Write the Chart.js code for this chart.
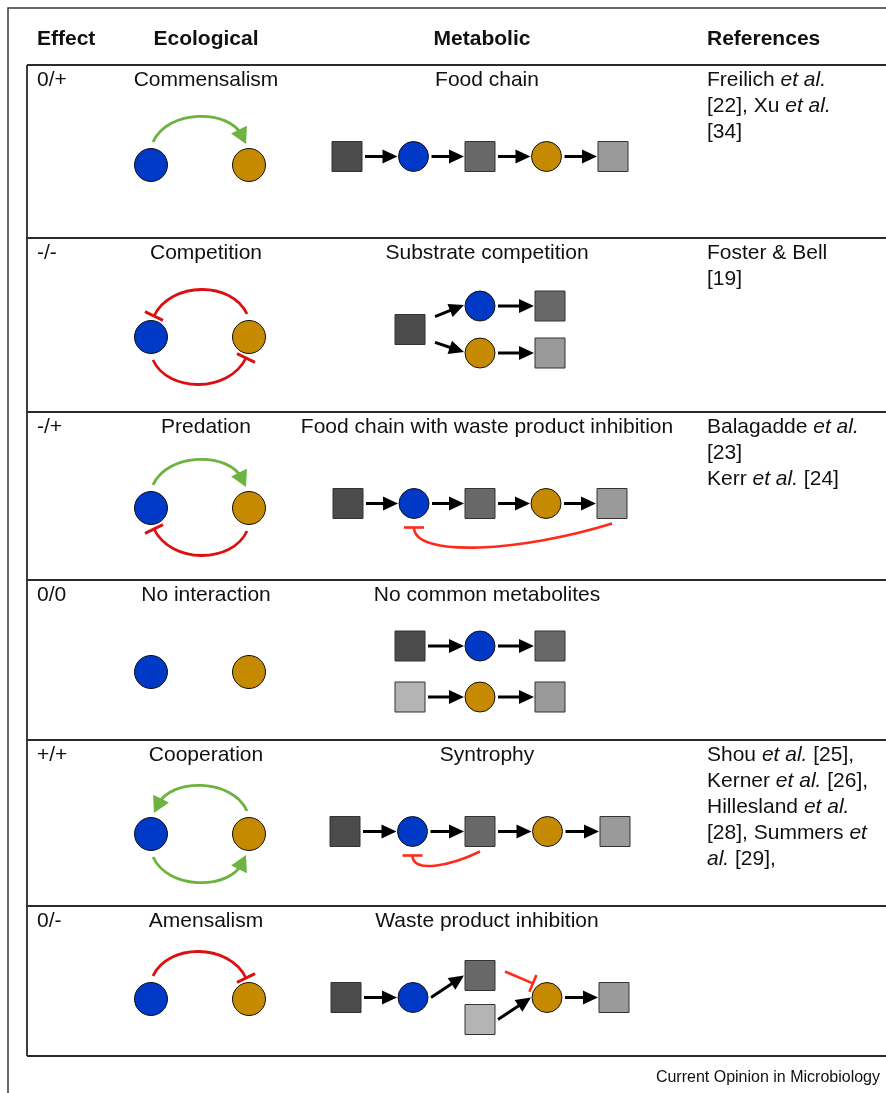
<!DOCTYPE html>
<html>
<head>
<meta charset="utf-8">
<script src="https://cdn.jsdelivr.net/npm/chart.js@4.4.0/dist/chart.umd.min.js"></script>
<style>
  html, body { margin: 0; padding: 0; background: #fff; }
</style>
</head>
<body>
<canvas id="c" width="886" height="1093"></canvas>
<script>
// ---- table content ----
const headers = ['Effect', 'Ecological', 'Metabolic', 'References'];
const effects = ['0/+', '-/-', '-/+', '0/0', '+/+', '0/-'];
const ecological = ['Commensalism', 'Competition', 'Predation', 'No interaction', 'Cooperation', 'Amensalism'];
const metabolic = ['Food chain', 'Substrate competition', 'Food chain with waste product inhibition',
  'No common metabolites', 'Syntrophy', 'Waste product inhibition'];
// *...* = italic
const references = [
  ['Freilich *et al.*', '[22], Xu *et al.*', '[34]'],
  ['Foster & Bell', '[19]'],
  ['Balagadde *et al.*', '[23]', 'Kerr *et al.* [24]'],
  [],
  ['Shou *et al.* [25],', 'Kerner *et al.* [26],', 'Hillesland *et al.*', '[28], Summers *et*', '*al.* [29],'],
  []
];
const source = 'Current Opinion in Microbiology';

// ecological links: [from, to, side, effect]   + arrow, - inhibition
const ecoLinks = [
  [['A', 'B', 'top', '+']],
  [['B', 'A', 'top', '-'], ['A', 'B', 'bottom', '-']],
  [['A', 'B', 'top', '+'], ['B', 'A', 'bottom', '-']],
  [],
  [['B', 'A', 'top', '+'], ['A', 'B', 'bottom', '+']],
  [['A', 'B', 'top', '-']]
];

// metabolic nodes: [kind, step, lane]  (A/B = species, M1..M4 = metabolites)
const metaNodes = [
  [['M1', 0, 0], ['A', 1, 0], ['M2', 2, 0], ['B', 3, 0], ['M3', 4, 0]],
  [['M1', 1, 0], ['A', 2, -1], ['M2', 3, -1], ['B', 2, 1], ['M3', 3, 1]],
  [['M1', 0, 0], ['A', 1, 0], ['M2', 2, 0], ['B', 3, 0], ['M3', 4, 0]],
  [['M1', 1, -1], ['A', 2, -1], ['M2', 3, -1], ['M4', 1, 1], ['B', 2, 1], ['M3', 3, 1]],
  [['M1', 0, 0], ['A', 1, 0], ['M2', 2, 0], ['B', 3, 0], ['M3', 4, 0]],
  [['M1', 0, 0], ['A', 1, 0], ['M2', 2, -1], ['M4', 2, 1], ['B', 3, 0], ['M3', 4, 0]]
];
// conversions, by node index
const metaFlows = [
  [[0, 1], [1, 2], [2, 3], [3, 4]],
  [[0, 1], [1, 2], [0, 3], [3, 4]],
  [[0, 1], [1, 2], [2, 3], [3, 4]],
  [[0, 1], [1, 2], [3, 4], [4, 5]],
  [[0, 1], [1, 2], [2, 3], [3, 4]],
  [[0, 1], [1, 2], [3, 4], [4, 5]]
];
const metaInhibitions = [[], [], [[4, 1]], [], [[2, 1]], [[2, 4]]];

// ---- layout (design units = px of the 886x1093 figure) ----
const W = 886, H = 1093;
const rowTops = [65, 238, 412, 580, 740, 906];
const tableBottom = 1056;
const ecoX = { A: 151, B: 249 };
const ecoDy = [100, 99, 96, 92, 94, 93];
const metaCenterX = 480, metaDy = 91.5;
const metaStep = [66.5, 70, 66, 70, 67.5, 67];
const laneGap = [0, 23.5, 0, 25.5, 0, 22];
const colors = { A: '#0039c6', B: '#c68a00', M1: '#4b4b4b', M2: '#686868', M3: '#9a9a9a', M4: '#b4b4b4' };
const GREEN = '#6cb33f', RED = '#dc1010', RED2 = '#ff2a1a';
const FONT = '"Liberation Sans", Arial, Helvetica, sans-serif';
const ECO_R = 16.5, META_R = 15, SQ_HALF = 15;

const ecoPts = [];
effects.forEach((_, r) => {
  ['A', 'B'].forEach(k => ecoPts.push({ x: ecoX[k], y: rowTops[r] + ecoDy[r], kind: k }));
});
function metaPos(r, n) {
  return {
    x: metaCenterX + (n[1] - 2) * metaStep[r], y: rowTops[r] + metaDy + n[2] * laneGap[r],
    kind: n[0], lane: n[2]
  };
}
const metaPts = metaNodes.map((row, r) => row.map(n => metaPos(r, n)));
const speciesPts = [].concat(...metaPts).filter(p => p.kind === 'A' || p.kind === 'B');
const metabolitePts = [].concat(...metaPts).filter(p => p.kind[0] === 'M');

const isSq = p => p.kind[0] === 'M';
const half = p => isSq(p) ? SQ_HALF : META_R;

// ---- drawing helpers ----
function head(ctx, tip, ang, len, hw, color) {
  ctx.save();
  ctx.translate(tip.x, tip.y);
  ctx.rotate(ang);
  ctx.beginPath();
  ctx.moveTo(0, 0); ctx.lineTo(-len, -hw); ctx.lineTo(-len, hw); ctx.closePath();
  ctx.fillStyle = color; ctx.fill();
  ctx.restore();
}
function bar(ctx, p, ang, len, color, lw) {
  const nx = -Math.sin(ang), ny = Math.cos(ang);
  ctx.beginPath();
  ctx.moveTo(p.x - nx * len / 2, p.y - ny * len / 2);
  ctx.lineTo(p.x + nx * len / 2, p.y + ny * len / 2);
  ctx.strokeStyle = color; ctx.lineWidth = lw; ctx.stroke();
}
function curve(ctx, p0, c1, c2, p3, color, lw, effect, hl) {
  const ang = Math.atan2(p3.y - c2.y, p3.x - c2.x);
  let end = p3;
  if (effect === '+') end = { x: p3.x - Math.cos(ang) * hl * 0.6, y: p3.y - Math.sin(ang) * hl * 0.6 };
  ctx.beginPath();
  ctx.moveTo(p0.x, p0.y);
  ctx.bezierCurveTo(c1.x, c1.y, c2.x, c2.y, end.x, end.y);
  ctx.strokeStyle = color; ctx.lineWidth = lw; ctx.lineCap = 'butt'; ctx.stroke();
  if (effect === '+') head(ctx, p3, ang, hl, hl * 0.55, color);
  else bar(ctx, p3, ang, 20, color, lw);
}
function rich(ctx, str, x, y, size) {
  let cx = x;
  str.split('*').forEach((part, i) => {
    ctx.font = (i % 2 ? 'italic ' : '') + size + 'px ' + FONT;
    ctx.fillText(part, cx, y);
    cx += ctx.measureText(part).width;
  });
}

const tablePlugin = {
  id: 'table',
  beforeDatasetsDraw(chart) {
    const { ctx, scales: { x, y } } = chart;
    const X = v => x.getPixelForValue(v), Y = v => y.getPixelForValue(v);
    ctx.save();
    ctx.strokeStyle = '#3a3a3a'; ctx.lineWidth = 1.5;
    ctx.beginPath();
    ctx.moveTo(X(8), Y(H)); ctx.lineTo(X(8), Y(8)); ctx.lineTo(X(W), Y(8));
    ctx.stroke();
    ctx.strokeStyle = '#2a2a2a'; ctx.lineWidth = 1.8;
    ctx.beginPath();
    rowTops.concat([tableBottom]).forEach(t => { ctx.moveTo(X(27), Y(t)); ctx.lineTo(X(W), Y(t)); });
    ctx.moveTo(X(27), Y(rowTops[0])); ctx.lineTo(X(27), Y(tableBottom));
    ctx.stroke();
    ctx.restore();
  }
};

const linkPlugin = {
  id: 'links',
  beforeDatasetsDraw(chart) {
    const { ctx, scales: { x, y } } = chart;
    const P = p => ({ x: x.getPixelForValue(p.x), y: y.getPixelForValue(p.y) });
    ctx.save();
    // ecological arcs
    ecoLinks.forEach((links, r) => {
      const cy = rowTops[r] + ecoDy[r];
      links.forEach(([f, t, side, eff]) => {
        const s = side === 'top' ? -1 : 1;
        const fx = ecoX[f], tx = ecoX[t], dir = Math.sign(tx - fx);
        const p0 = { x: fx + dir * 2, y: cy + s * 23 };
        const p3 = { x: tx - dir * 3, y: cy + s * 21 };
        const c1 = { x: p0.x + dir * 15, y: cy + s * 56 };
        const c2 = { x: p3.x - dir * 17, y: cy + s * 56 };
        curve(ctx, P(p0), P(c1), P(c2), P(p3), eff === '+' ? GREEN : RED, 2.8, eff, 16);
      });
    });
    // metabolic conversions
    metaFlows.forEach((flows, r) => {
      flows.forEach(([i, j]) => {
        const a = metaPts[r][i], b = metaPts[r][j];
        // fan-out from a central substrate starts part-way towards the target lane
        const fan = isSq(a) && a.lane === 0 && b.lane !== 0;
        const s = fan
          ? P({ x: a.x + half(a) + 10, y: a.y + (b.y - a.y) * 0.55 })
          : P({ x: a.x + half(a) + 3, y: a.y });
        const tip = P({ x: b.x - half(b) - 1, y: fan ? b.y - 1 : b.y });
        const ang = Math.atan2(tip.y - s.y, tip.x - s.x);
        const e = { x: tip.x - Math.cos(ang) * 8, y: tip.y - Math.sin(ang) * 8 };
        ctx.beginPath(); ctx.moveTo(s.x, s.y); ctx.lineTo(e.x, e.y);
        ctx.strokeStyle = '#000'; ctx.lineWidth = 3; ctx.stroke();
        head(ctx, tip, ang, 15, 7, '#000');
      });
    });
    // metabolic inhibitions
    metaInhibitions.forEach((inh, r) => {
      inh.forEach(([i, j]) => {
        const a = metaPts[r][i], b = metaPts[r][j];
        if (a.x > b.x) {
          const p0 = { x: a.x, y: a.y + half(a) + 5 };
          const p3 = { x: b.x, y: b.y + half(b) + 9 };
          const d = 8 + 0.1 * (p0.x - p3.x);
          const c1 = { x: p0.x - 0.45 * (p0.x - p3.x), y: p0.y + d };
          const c2 = { x: p3.x, y: p3.y + d + 3 };
          curve(ctx, P(p0), P(c1), P(c2), P(p3), RED2, 2.6, '-', 0);
        } else {
          const p0 = P({ x: a.x + half(a) + 10, y: a.y - 4 });
          const p3 = P({ x: b.x - (META_R + 5) * Math.SQRT1_2, y: b.y - (META_R + 5) * Math.SQRT1_2 });
          ctx.beginPath(); ctx.moveTo(p0.x, p0.y); ctx.lineTo(p3.x, p3.y);
          ctx.strokeStyle = RED2; ctx.lineWidth = 2.6; ctx.stroke();
          bar(ctx, p3, Math.atan2(p3.y - p0.y, p3.x - p0.x), 18, RED2, 2.6);
        }
      });
    });
    ctx.restore();
  }
};

const textPlugin = {
  id: 'texts',
  afterDraw(chart) {
    const { ctx, scales: { x, y } } = chart;
    const X = v => x.getPixelForValue(v), Y = v => y.getPixelForValue(v);
    ctx.save();
    ctx.fillStyle = '#111';
    ctx.textBaseline = 'middle';
    ctx.font = 'bold 21px ' + FONT;
    ctx.textAlign = 'left'; ctx.fillText(headers[0], X(37), Y(39));
    ctx.textAlign = 'center'; ctx.fillText(headers[1], X(206), Y(39));
    ctx.fillText(headers[2], X(482), Y(39));
    ctx.textAlign = 'left'; ctx.fillText(headers[3], X(707), Y(39));
    ctx.font = '21px ' + FONT;
    rowTops.forEach((t, r) => {
      const ty = t + 15;
      ctx.textAlign = 'left'; ctx.fillText(effects[r], X(37), Y(ty));
      ctx.textAlign = 'center';
      ctx.fillText(ecological[r], X(206), Y(ty));
      ctx.fillText(metabolic[r], X(487), Y(ty));
      ctx.textAlign = 'left';
      references[r].forEach((line, i) => rich(ctx, line, X(707), Y(ty + i * 26), 21));
      ctx.font = '21px ' + FONT;
    });
    ctx.font = '16px ' + FONT;
    ctx.textAlign = 'right';
    ctx.fillText(source, X(880), Y(1078));
    ctx.restore();
  }
};

new Chart(document.getElementById('c'), {
  type: 'scatter',
  data: {
    datasets: [
      {
        label: 'Ecological partners', data: ecoPts, pointStyle: 'circle', pointRadius: ECO_R,
        backgroundColor: c => colors[c.raw.kind], borderColor: '#111', borderWidth: 1
      },
      {
        label: 'Species', data: speciesPts, pointStyle: 'circle', pointRadius: META_R,
        backgroundColor: c => colors[c.raw.kind], borderColor: '#111', borderWidth: 1
      },
      {
        label: 'Metabolites', data: metabolitePts, pointStyle: 'rect', pointRadius: SQ_HALF / Math.SQRT1_2,
        backgroundColor: c => colors[c.raw.kind], borderColor: '#333', borderWidth: 1
      }
    ]
  },
  options: {
    responsive: false, animation: false, events: [],
    layout: { padding: 0, autoPadding: false },
    plugins: { legend: { display: false }, tooltip: { enabled: false } },
    scales: {
      x: { type: 'linear', min: 0, max: W, display: false },
      y: { type: 'linear', min: 0, max: H, reverse: true, display: false }
    }
  },
  plugins: [tablePlugin, linkPlugin, textPlugin]
});
</script>
</body>
</html>
